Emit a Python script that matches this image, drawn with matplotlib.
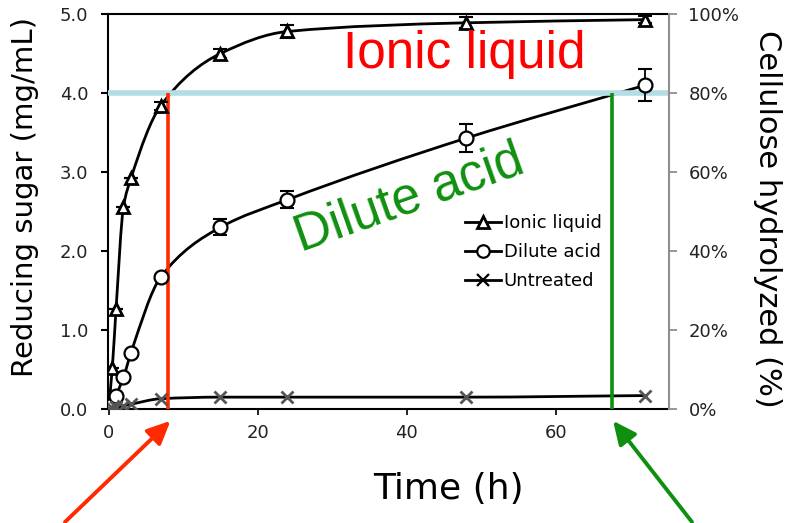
import numpy as np
import matplotlib
matplotlib.use("Agg")
import matplotlib.pyplot as plt
from matplotlib.path import Path
from matplotlib.patches import PathPatch
from matplotlib.lines import Line2D
from matplotlib.ticker import FuncFormatter

# ---- data -------------------------------------------------------------
time_h = [0, 0.5, 1, 2, 3, 7, 15, 24, 48, 72]
ionic_liquid = [0, 0.52, 1.26, 2.56, 2.92, 3.84, 4.50, 4.78, 4.89, 4.93]
ionic_err = [0, 0, 0, 0, 0, 0.05, 0.06, 0.08, 0.07, 0.04]
dilute_acid = [0, 0.05, 0.17, 0.40, 0.71, 1.67, 2.30, 2.65, 3.43, 4.10]
dilute_err = [0, 0, 0, 0, 0, 0.03, 0.10, 0.11, 0.18, 0.20]
untreated = [0, 0.01, 0.02, 0.04, 0.06, 0.13, 0.15, 0.15, 0.15, 0.17]

series_names = ["Ionic liquid", "Dilute acid", "Untreated"]
sugar_ticks = [0.0, 1.0, 2.0, 3.0, 4.0, 5.0]
percent_ticks = [0, 20, 40, 60, 80, 100]
time_ticks = [0, 20, 40, 60]

target_sugar = 4.0          # 80 % hydrolysis level
ionic_time_at_target = 8.0
dilute_time_at_target = 67.5

RED = "#ff2a00"
GREEN = "#0f8f0f"
CYAN = "#b4dde3"


def smooth_path(xs, ys):
    """Monotone cubic (Fritsch-Carlson) curve through the points as Bezier segments."""
    x = np.asarray(xs, float)
    y = np.asarray(ys, float)
    n = len(x)
    h = np.diff(x)
    d = np.diff(y) / h
    m = np.zeros(n)
    m[0], m[-1] = d[0], d[-1]
    for i in range(1, n - 1):
        if d[i - 1] * d[i] <= 0:
            m[i] = 0.0
        else:
            w1 = 2 * h[i] + h[i - 1]
            w2 = h[i] + 2 * h[i - 1]
            m[i] = (w1 + w2) / (w1 / d[i - 1] + w2 / d[i])
    verts = [(x[0], y[0])]
    codes = [Path.MOVETO]
    for i in range(n - 1):
        verts += [(x[i] + h[i] / 3, y[i] + m[i] * h[i] / 3),
                  (x[i + 1] - h[i] / 3, y[i + 1] - m[i + 1] * h[i] / 3),
                  (x[i + 1], y[i + 1])]
        codes += [Path.CURVE4] * 3
    return Path(verts, codes)


fig = plt.figure(figsize=(7.87, 5.23), dpi=100)
ax = fig.add_axes([0.137, 0.218, 0.713, 0.755])

ax.set_xlim(-0.1, 75.2)
ax.set_ylim(0, 5.0)

# smoothed curves
for ys in (ionic_liquid, dilute_acid, untreated):
    ax.add_patch(PathPatch(smooth_path(time_h, ys), facecolor="none",
                           edgecolor="black", lw=2.0, zorder=3))

# reference lines for the 80 % level
ax.axhline(target_sugar, color=CYAN, lw=4, zorder=4, solid_capstyle="butt")
ax.plot([ionic_time_at_target] * 2, [0, target_sugar], color=RED, lw=2.6,
        zorder=5, solid_capstyle="butt")
ax.plot([dilute_time_at_target] * 2, [0, target_sugar], color=GREEN, lw=2.6,
        zorder=5, solid_capstyle="butt")

# markers with error bars
ax.errorbar(time_h, ionic_liquid, yerr=ionic_err, fmt="none", ecolor="black",
            elinewidth=1.3, capsize=5, capthick=1.5, zorder=6)
ax.errorbar(time_h, dilute_acid, yerr=dilute_err, fmt="none", ecolor="black",
            elinewidth=1.3, capsize=5, capthick=1.5, zorder=6)
ax.plot(time_h, ionic_liquid, ls="none", marker="^", ms=9, mfc="white",
        mec="black", mew=2, zorder=7)
ax.plot(time_h, dilute_acid, ls="none", marker="o", ms=10, mfc="white",
        mec="black", mew=1.6, zorder=7)
ax.plot(time_h, untreated, ls="none", marker="x", ms=9, mec="#555555",
        mew=2, zorder=7)

# spines and ticks
for side in ("left", "bottom", "top"):
    ax.spines[side].set_color("black")
    ax.spines[side].set_linewidth(1.5)
ax.spines["right"].set_visible(False)

ax.set_yticks(sugar_ticks)
ax.yaxis.set_major_formatter(FuncFormatter(lambda v, p: f"{v:.1f}"))
ax.set_xticks(time_ticks)
ax.tick_params(axis="y", direction="out", length=5, width=1.5, pad=9,
               labelsize=13, labelcolor="#222222")
ax.tick_params(axis="x", direction="out", length=4, width=1.2, pad=7,
               labelsize=13, labelcolor="#222222")

ax2 = ax.twinx()
ax2.set_ylim(0, 100)
ax2.set_yticks(percent_ticks)
ax2.yaxis.set_major_formatter(FuncFormatter(lambda v, p: f"{v:.0f}%"))
for side in ("left", "bottom", "top"):
    ax2.spines[side].set_visible(False)
ax2.spines["right"].set_color("#8f8f8f")
ax2.spines["right"].set_linewidth(1.5)
ax2.tick_params(axis="y", direction="out", length=6, width=1.3, pad=8,
                colors="#8f8f8f", labelsize=13, labelcolor="#222222")

# axis titles
fig.text(0.032, 0.624, "Reducing sugar (mg/mL)", rotation=90, fontsize=21,
         ha="center", va="center", color="black")
fig.text(0.975, 0.581, "Cellulose hydrolyzed (%)", rotation=-90,
         fontsize=22, ha="center", va="center", color="black")
fig.text(0.57, 0.065, "Time (h)", fontsize=26, ha="center", va="center")

# big annotations
ax.text(47.7, 4.32, "Ionic liquid", color="#ff0000", fontsize=37,
        family="Liberation Sans", ha="center", va="baseline", zorder=8)
ax.text(41.0, 2.50, "Dilute acid", color=GREEN, fontsize=37,
        family="Liberation Sans", ha="center", va="baseline", rotation=19.5,
        rotation_mode="anchor", zorder=8)

# legend
handles = [
    Line2D([], [], color="black", lw=2, marker="^", ms=8, mfc="white",
           mec="black", mew=2),
    Line2D([], [], color="black", lw=2, marker="o", ms=9, mfc="white",
           mec="black", mew=1.6),
    Line2D([], [], color="black", lw=2, marker="x", ms=8, mec="black",
           mew=1.6),
]
fig.legend(handles, series_names, loc="upper left",
           bbox_to_anchor=(465 / 787, 1 - 214 / 523),
           bbox_transform=fig.transFigure, frameon=False, fontsize=13,
           handlelength=2.0, handletextpad=0.15, labelspacing=0.62,
           borderpad=0, borderaxespad=0, numpoints=1)

# arrows pointing at the two crossing times
arrow_kw = dict(arrowstyle="-|>,head_length=1.4,head_width=0.65", lw=2.8,
                shrinkA=0, shrinkB=0)
ax.annotate("", xy=(ionic_time_at_target + 0.3, -0.03),
            xycoords=("data", "axes fraction"),
            xytext=(65 / 787, 1 - 522 / 523), textcoords="figure fraction",
            arrowprops=dict(color=RED, **arrow_kw), annotation_clip=False)
ax.annotate("", xy=(dilute_time_at_target + 0.2, -0.03),
            xycoords=("data", "axes fraction"),
            xytext=(692 / 787, 1 - 522 / 523), textcoords="figure fraction",
            arrowprops=dict(color=GREEN, **arrow_kw), annotation_clip=False)

fig.savefig("out.png", dpi=100)
